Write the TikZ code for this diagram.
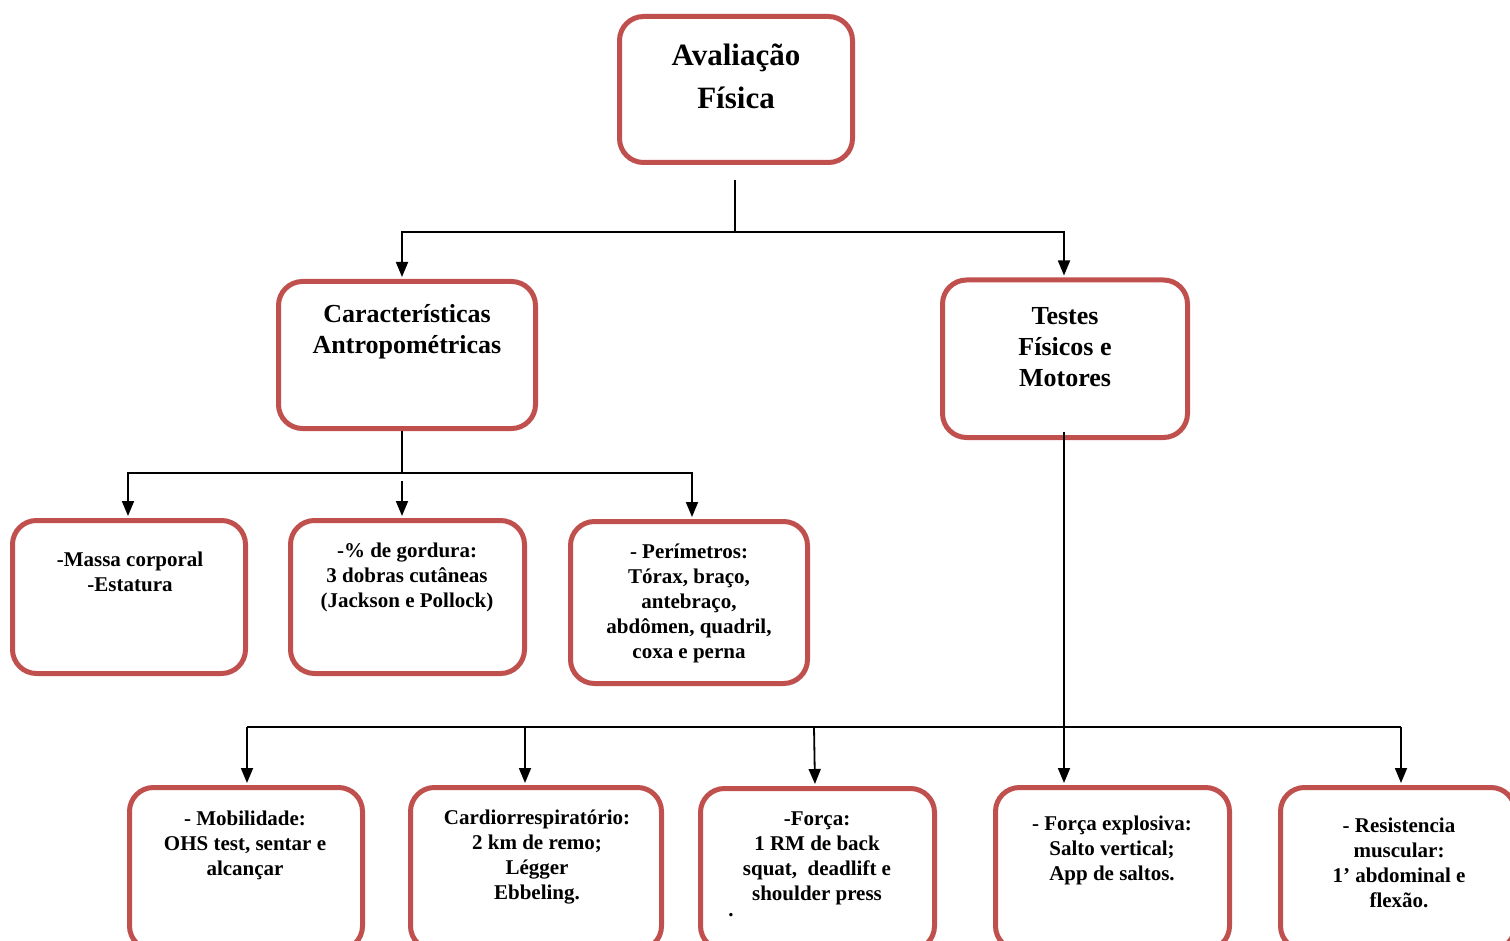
\documentclass[tikz,border=0pt]{standalone}
\usepackage{fontspec}
\setmainfont{Liberation Serif}
\usetikzlibrary{arrows.meta}
\definecolor{boxred}{HTML}{C0504D}
\tikzset{
  box/.style={draw=boxred, line width=5pt, rounded corners=24pt, fill=white, inner sep=0pt},
  conn/.style={draw=black, line width=1.8pt},
  arr/.style={conn, -{Triangle[length=15pt,width=12pt]}, shorten >=2pt},
  tA/.style={align=center, inner sep=0pt, font=\fontsize{31}{43}\selectfont\bfseries},
  tB/.style={align=center, inner sep=0pt, font=\fontsize{26}{31}\selectfont\bfseries},
  tC/.style={align=center, inner sep=0pt, font=\fontsize{21}{25}\selectfont\bfseries},
}
\begin{document}
\begin{tikzpicture}[x=1pt,y=-1pt]
\useasboundingbox (0,0) rectangle (1510,941);
\clip (0,0) rectangle (1510,941);
% boxes
\node[box, minimum width=233, minimum height=146] (top) at (736,89.5) {};
\node[box, minimum width=257, minimum height=147] (char) at (407,355) {};
\node[box, minimum width=245, minimum height=157.5] (testes) at (1065,358.75) {};
\node[box, minimum width=233, minimum height=153] (massa) at (129,597) {};
\node[box, minimum width=234, minimum height=153] (gord) at (407.5,597) {};
\node[box, minimum width=237, minimum height=162] (perim) at (689,602.5) {};
\node[box, minimum width=233, minimum height=162.5] (mobil) at (246,868.75) {};
\node[box, minimum width=251, minimum height=162.5] (cardio) at (536,868.75) {};
\node[box, minimum width=234, minimum height=161.5] (forca) at (817.5,869.25) {};
\node[box, minimum width=234, minimum height=162.5] (explos) at (1112.5,868.75) {};
\node[box, minimum width=234.5, minimum height=162.5] (resist) at (1397.75,868.75) {};
% texts
\node[tA] (ttop) at (736,76) {Avaliação\\Física};
\node[tB] (tchar) at (407,332) {Características\\Antropométricas};
\node[tB] (ttestes) at (1065,347) {Testes\\Físicos e\\Motores};
\node[tC] (tmassa) at (130,572) {-Massa corporal\\-Estatura};
\node[tC] (tgord) at (407,577) {-\% de gordura:\\3 dobras cutâneas\\(Jackson e Pollock)};
\node[tC] (tperim) at (689,603) {- Perímetros:\\Tórax, braço,\\antebraço,\\abdômen, quadril,\\coxa e perna};
\node[tC] (tmobil) at (245,845) {- Mobilidade:\\OHS test, sentar e\\alcançar};
\node[tC] (tcardio) at (537,857) {Cardiorrespiratório:\\2 km de remo;\\Légger\\Ebbeling.};
\node[tC] (tforca) at (817,858) {-Força:\\1 RM de back\\squat,\ \ deadlift e\\shoulder press};
\node[tC] (fdot) at (731,915) {.};
\node[tC] (texplos) at (1112,850) {- Força explosiva:\\Salto vertical;\\App de saltos.};
\node[tC] (tresist) at (1399,863) {- Resistencia\\muscular:\\1’ abdominal e\\flexão.};
% connector points
\coordinate (t0) at (735,180);
\coordinate (j1) at (735,232);
\coordinate (j2) at (402,473);
\coordinate (j2b) at (402,481);
\coordinate (b1) at (247,727);
\coordinate (b2) at (525,727);
\coordinate (b3) at (814,727);
\coordinate (b5) at (1401,727);
% connectors
\draw[conn] (t0) -- (j1);
\draw[arr] (j1) -| ([xshift=-5pt]char.north);
\draw[arr] (j1) -| ([xshift=-1pt]testes.north);
\draw[conn] ([xshift=-5pt]char.south) -- (j2);
\draw[arr] (j2) -| ([xshift=-1pt]massa.north);
\draw[arr] (j2) -| ([xshift=3pt]perim.north);
\draw[arr] (j2b) -- ([xshift=-5.5pt]gord.north);
\draw[arr] ([xshift=-1pt,yshift=8pt]testes.south) -- ([xshift=-1pt]testes.south |- explos.north);
\draw[conn] (b1) -- (b5);
\draw[arr] (b1) -- (b1 |- mobil.north);
\draw[arr] (b2) -- (b2 |- cardio.north);
\draw[arr] (b3) -- ([xshift=-2.5pt]forca.north);
\draw[arr] (b5) -- (b5 |- resist.north);
\end{tikzpicture}
\end{document}
